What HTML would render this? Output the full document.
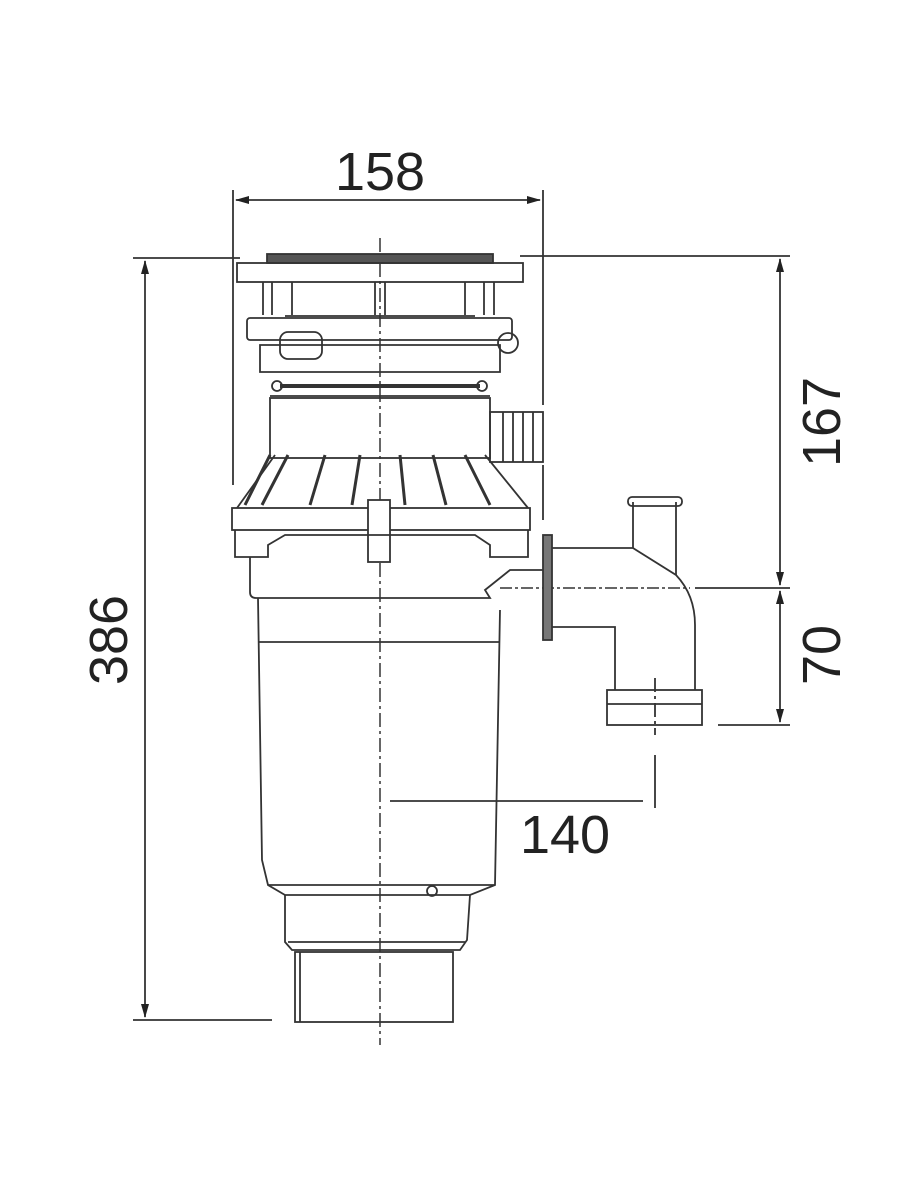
<!DOCTYPE html>
<html><head><style>body{margin:0;background:#fff}svg{display:block}</style></head><body>
<svg width="914" height="1200" viewBox="0 0 914 1200" xmlns="http://www.w3.org/2000/svg" font-family="Liberation Sans, sans-serif">
<defs><marker id="a" markerWidth="14" markerHeight="10" refX="13" refY="5" orient="auto" markerUnits="userSpaceOnUse"><path d="M0,1 L14,5 L0,9z" fill="#222"/></marker></defs>
<g stroke="#333" stroke-width="1.8" fill="none">
<line x1="233" y1="190" x2="233" y2="485"/>
<line x1="543" y1="190" x2="543" y2="405"/>
<line x1="543" y1="465" x2="543" y2="520"/>
<line x1="390" y1="200" x2="236" y2="200" marker-end="url(#a)"/>
<line x1="380" y1="200" x2="540" y2="200" marker-end="url(#a)"/>
<line x1="133" y1="258" x2="240" y2="258"/>
<line x1="133" y1="1020" x2="272" y2="1020"/>
<line x1="145" y1="600" x2="145" y2="261" marker-end="url(#a)"/>
<line x1="145" y1="600" x2="145" y2="1017" marker-end="url(#a)"/>
<line x1="520" y1="256" x2="790" y2="256"/>
<line x1="780" y1="420" x2="780" y2="259" marker-end="url(#a)"/>
<line x1="780" y1="420" x2="780" y2="585" marker-end="url(#a)"/>
<line x1="780" y1="650" x2="780" y2="591" marker-end="url(#a)"/>
<line x1="780" y1="650" x2="780" y2="722" marker-end="url(#a)"/>
<line x1="718" y1="725" x2="790" y2="725"/>
<line x1="695" y1="588" x2="790" y2="588"/>
<line x1="390" y1="801" x2="643" y2="801"/>
<line x1="655" y1="755" x2="655" y2="808"/>
<line x1="655" y1="678" x2="655" y2="735" stroke-dasharray="14 4 3 4"/>
<line x1="380" y1="238" x2="380" y2="1045" stroke-dasharray="14 4 3 4" stroke-width="1.5"/>
<line x1="500" y1="588" x2="690" y2="588" stroke-dasharray="12 3 3 3" stroke-width="1.5"/>
<rect x="267" y="254" width="226" height="9" fill="#555" stroke="#333"/>
<rect x="237" y="263" width="286" height="19"/>
<line x1="263" y1="282" x2="263" y2="315"/><line x1="272" y1="282" x2="272" y2="315"/><line x1="292" y1="282" x2="292" y2="315"/>
<line x1="375" y1="282" x2="375" y2="315"/><line x1="385" y1="282" x2="385" y2="315"/>
<line x1="465" y1="282" x2="465" y2="315"/><line x1="484" y1="282" x2="484" y2="315"/><line x1="494" y1="282" x2="494" y2="315"/>
<rect x="247" y="318" width="265" height="22" rx="3"/>
<line x1="285" y1="316" x2="475" y2="316"/>
<rect x="280" y="332" width="42" height="27" rx="8"/>
<circle cx="508" cy="343" r="10"/>
<path d="M260 345 H500 V372 H260 Z"/>
<line x1="280" y1="386" x2="480" y2="386" stroke-width="4"/>
<circle cx="277" cy="386" r="5"/><circle cx="482" cy="386" r="5"/>
<line x1="270" y1="396" x2="490" y2="396"/>
<rect x="270" y="398" width="220" height="60"/>
<rect x="490" y="412" width="53" height="50"/>
<line x1="503" y1="412" x2="503" y2="462"/><line x1="513" y1="412" x2="513" y2="462"/><line x1="523" y1="412" x2="523" y2="462"/><line x1="533" y1="412" x2="533" y2="462"/>
<path d="M275 455 L237 508 M485 455 L528 508"/>
<path d="M270 455 L245 505 M288 455 L262 505 M325 455 L310 505 M360 455 L352 505 M400 455 L405 505 M433 455 L446 505 M465 455 L490 505" stroke-width="3"/>
<rect x="232" y="508" width="298" height="22"/>
<rect x="368" y="500" width="22" height="62" fill="#fff"/>
<path d="M235 530 V557 H268 V545 L285 535 H475 L490 545 V557 H528 V530"/>
<path d="M250 557 V592 Q250 598 256 598 H490 L485 590 L510 570 H545"/>
<path d="M258 598 L262 860 L268 885 L285 895 H470 L495 885 L500 610"/>
<line x1="258" y1="642" x2="500" y2="642"/>
<line x1="268" y1="885" x2="495" y2="885"/>
<circle cx="432" cy="891" r="5"/>
<path d="M285 895 V942 L292 950 H460 L467 940 L470 895"/>
<line x1="288" y1="942" x2="465" y2="942"/>
<rect x="295" y="952" width="158" height="70"/>
<line x1="300" y1="952" x2="300" y2="1022"/>
<rect x="543" y="535" width="9" height="105" fill="#777"/>
<path d="M552 548 H633 L676 575 Q695 595 695 625 V690"/>
<path d="M552 627 H615 V690"/>
<path d="M633 548 V502 M676 575 V502"/>
<rect x="628" y="497" width="54" height="9" rx="4"/>
<rect x="607" y="690" width="95" height="35"/>
<line x1="607" y1="704" x2="702" y2="704"/>
</g>
<g fill="#222" font-size="54">
<text x="380" y="190" text-anchor="middle">158</text>
<text x="565" y="853" text-anchor="middle">140</text>
<text transform="translate(127,640) rotate(-90)" text-anchor="middle">386</text>
<text transform="translate(840,422) rotate(-90)" text-anchor="middle">167</text>
<text transform="translate(840,655) rotate(-90)" text-anchor="middle">70</text>
</g>
</svg>
</body></html>
